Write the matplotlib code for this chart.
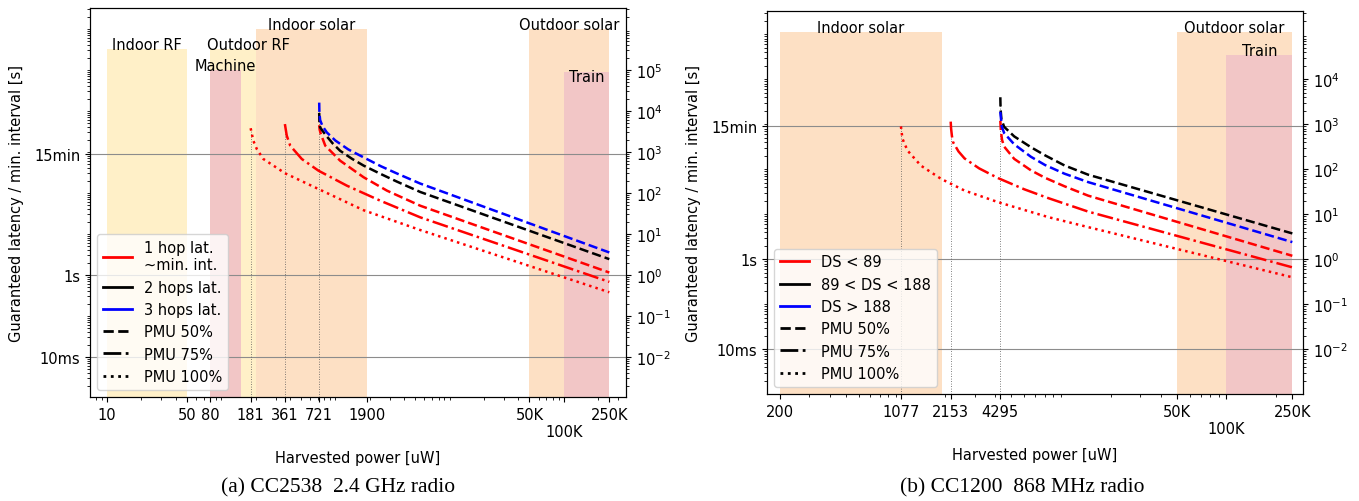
import numpy as np
import matplotlib
matplotlib.use("Agg")
import matplotlib.pyplot as plt
from matplotlib.lines import Line2D
from matplotlib.ticker import LogLocator, NullFormatter, FixedLocator, FixedFormatter
import matplotlib.transforms as mtransforms

plt.rcParams["font.family"] = "DejaVu Sans"
plt.rcParams["font.size"] = 10.5

# ---------------- (a) CC2538 2.4 GHz radio ----------------
a_xticks = [10, 50, 80, 181, 361, 721, 1900, 50000, 100000, 250000]
a_xticklabels = ["10", "50", "80", "181", "361", "721", "1900", "50K", "\n100K", "250K"]

# 1 hop, PMU 100% (red dotted)
a_hop1_pmu100_p = [181, 191, 205, 234, 363, 711, 1766, 5530, 250000]
a_hop1_pmu100_l = [3800, 1890, 1180, 675, 302, 125, 38, 12.5, 0.38]
# 1 hop, PMU 75% (red dash-dot)
a_hop1_pmu75_p = [361, 375, 402, 508, 711, 1260, 2470, 5530, 250000]
a_hop1_pmu75_l = [4800, 2500, 1425, 675, 350, 151, 65, 25.5, 0.68]
# 1 hop, PMU 50% (red dashed)
a_hop1_pmu50_p = [721, 728, 745, 815, 1100, 1766, 2830, 5530, 250000]
a_hop1_pmu50_l = [4500, 3500, 2750, 1425, 614, 242, 114, 49, 1.15]
# 2 hops, PMU 50% (black dashed)
a_hop2_pmu50_p = [721, 724, 735, 770, 841, 950, 1100, 1400, 1766, 2500, 3450, 5530, 250000]
a_hop2_pmu50_l = [9000, 5500, 4000, 3300, 2400, 1600, 1070, 680, 466, 290, 190, 106, 2.44]
# 3 hops, PMU 50% (blue dashed)
a_hop3_pmu50_p = [721, 724, 735, 770, 841, 1000, 1300, 1766, 2500, 3450, 5530, 250000]
a_hop3_pmu50_l = [16000, 9000, 6000, 4300, 3000, 1900, 1150, 740, 450, 300, 170, 3.55]

a_region_names = ["Indoor RF", "Outdoor RF", "Machine", "Indoor solar", "Outdoor solar", "Train"]
a_region_lo = [10, 80, 80, 200, 50000, 100000]
a_region_hi = [50, 370, 150, 1900, 250000, 250000]

a_legend_labels = ["1 hop lat.\n~min. int.", "2 hops lat.", "3 hops lat.",
                   "PMU 50%", "PMU 75%", "PMU 100%"]

# ---------------- (b) CC1200 868 MHz radio ----------------
b_xticks = [200, 1077, 2153, 4295, 50000, 100000, 250000]
b_xticklabels = ["200", "1077", "2153", "4295", "50K", "\n100K", "250K"]

# DS < 89, PMU 100% (red dotted)
b_ds89_pmu100_p = [1077, 1100, 1180, 1422, 1883, 2610, 4160, 8360, 14600, 250000]
b_ds89_pmu100_l = [900, 480, 262, 121, 61.5, 33.8, 18.7, 8.7, 5.2, 0.40]
# DS < 89, PMU 75% (red dash-dot)
b_ds89_pmu75_p = [2153, 2165, 2190, 2226, 2400, 2610, 3200, 4160, 6000, 8360, 14600, 250000]
b_ds89_pmu75_l = [1150, 800, 550, 400, 250, 175, 105, 64, 36, 23, 11.5, 0.665]
# DS < 89, PMU 50% (red dashed)
b_ds89_pmu50_p = [4295, 4330, 4400, 4530, 5210, 6580, 8000, 10500, 14600, 250000]
b_ds89_pmu50_l = [1200, 700, 450, 320, 171, 95, 65, 42, 26, 1.2]
# 89 < DS < 188, PMU 50% (black dashed)
b_ds188_pmu50_p = [4295, 4310, 4360, 4530, 5210, 6580, 8000, 10500, 14600, 250000]
b_ds188_pmu50_l = [4000, 2200, 1300, 880, 540, 310, 205, 122, 76, 3.77]
# DS > 188, PMU 50% (blue dashed)
b_dsmax_pmu50_p = [4295, 4380, 4530, 5210, 6580, 8000, 10500, 14600, 250000]
b_dsmax_pmu50_l = [1900, 900, 640, 360, 190, 125, 80, 52, 2.42]

b_region_names = ["Indoor solar", "Outdoor solar", "Train"]
b_region_lo = [200, 50000, 100000]
b_region_hi = [1900, 250000, 250000]

b_legend_labels = ["DS < 89", "89 < DS < 188", "DS > 188",
                   "PMU 50%", "PMU 75%", "PMU 100%"]

# ---------------- styling ----------------
YELLOW = "#fff0c8"
ORANGE = "#fde0c4"
PINK = "#f2c6c6"
region_color = {"Indoor RF": YELLOW, "Outdoor RF": YELLOW, "Machine": PINK,
                "Indoor solar": ORANGE, "Outdoor solar": ORANGE, "Train": PINK}

W, H = 1359, 502
fig = plt.figure(figsize=(W / 100, H / 100), dpi=100)


def px_axes(left, top, right, bottom):
    return fig.add_axes([left / W, 1 - bottom / H, (right - left) / W, (bottom - top) / H])


def draw_panel(ax, curves, names, lo, hi, tops, xticks, xlabels, leg_labels,
               xlim, ylim, right_ticks, text_shift):
    ax.set_xscale("log")
    ax.set_yscale("log")
    trans = mtransforms.blended_transform_factory(ax.transData, ax.transAxes)

    for name, a, b in zip(names, lo, hi):
        top = tops[name]
        ax.axvspan(a, b, ymin=0, ymax=top, color=region_color[name], lw=0, zorder=0.5)
        ax.text(np.sqrt(a * b), top - text_shift.get(name, 0), name, transform=trans,
                ha="center", va="baseline", zorder=3)

    for yv in [0.01, 1, 900]:
        ax.axhline(yv, color="0.55", lw=0.8, zorder=1)

    # thin dotted markers at curve start powers
    starts = {}
    for p, l, c, ls in curves:
        starts[p[0]] = max(starts.get(p[0], 0), l[0])
    for p0, l0 in starts.items():
        ax.vlines(p0, ylim[0], l0, colors="0.35", linestyles=(0, (1, 2)), lw=0.6, zorder=1.2)

    for p, l, c, ls in curves:
        ax.plot(p, l, color=c, ls=ls, lw=1.8, zorder=2)

    ax.set_xlim(*xlim)
    ax.set_ylim(*ylim)

    ax.xaxis.set_major_locator(FixedLocator(xticks))
    ax.xaxis.set_major_formatter(FixedFormatter(xlabels))
    ax.xaxis.set_minor_locator(LogLocator(base=10, subs=np.arange(1, 10), numticks=30))
    ax.xaxis.set_minor_formatter(NullFormatter())

    ax.yaxis.set_major_locator(FixedLocator([0.01, 1, 900]))
    ax.yaxis.set_major_formatter(FixedFormatter(["10ms", "1s", "15min"]))
    ax.yaxis.set_minor_locator(LogLocator(base=10, subs=np.arange(1, 10), numticks=30))
    ax.yaxis.set_minor_formatter(NullFormatter())

    ax2 = ax.twinx()
    ax2.set_yscale("log")
    ax2.set_ylim(*ylim)
    ax2.yaxis.set_major_locator(FixedLocator(right_ticks))
    ax2.yaxis.set_major_formatter(FixedFormatter(
        [r"$10^{%d}$" % int(round(np.log10(t))) for t in right_ticks]))
    ax2.yaxis.set_minor_locator(LogLocator(base=10, subs=np.arange(2, 10), numticks=30))
    ax2.yaxis.set_minor_formatter(NullFormatter())

    ax.set_xlabel("Harvested power [uW]", labelpad=8)
    ax.set_ylabel("Guaranteed latency / min. interval [s]")
    ax.yaxis.set_label_coords(-0.123, 0.5)

    handles = [Line2D([], [], color="red", lw=2),
               Line2D([], [], color="black", lw=2),
               Line2D([], [], color="blue", lw=2),
               Line2D([], [], color="black", lw=2, ls="--"),
               Line2D([], [], color="black", lw=2, ls="-."),
               Line2D([], [], color="black", lw=2, ls=":")]
    leg = ax.legend(handles, leg_labels, loc="lower left")
    leg.set_zorder(5)
    return ax2


ax_a = px_axes(90, 9, 626, 398)
curves_a = [
    (a_hop1_pmu100_p, a_hop1_pmu100_l, "red", ":"),
    (a_hop1_pmu75_p, a_hop1_pmu75_l, "red", "-."),
    (a_hop1_pmu50_p, a_hop1_pmu50_l, "red", "--"),
    (a_hop2_pmu50_p, a_hop2_pmu50_l, "black", "--"),
    (a_hop3_pmu50_p, a_hop3_pmu50_l, "blue", "--"),
]
tops_a = {"Indoor RF": 0.895, "Outdoor RF": 0.895, "Machine": 0.84,
          "Indoor solar": 0.945, "Outdoor solar": 0.945, "Train": 0.835}
draw_panel(ax_a, curves_a, a_region_names, a_region_lo, a_region_hi, tops_a,
           a_xticks, a_xticklabels, a_legend_labels,
           (7.1, 3.5e5), (1.06e-3, 3.25e6),
           [1e-2, 1e-1, 1e0, 1e1, 1e2, 1e3, 1e4, 1e5], {"Train": 0.023})

ax_b = px_axes(767, 12, 1303, 395)
curves_b = [
    (b_ds89_pmu100_p, b_ds89_pmu100_l, "red", ":"),
    (b_ds89_pmu75_p, b_ds89_pmu75_l, "red", "-."),
    (b_ds89_pmu50_p, b_ds89_pmu50_l, "red", "--"),
    (b_ds188_pmu50_p, b_ds188_pmu50_l, "black", "--"),
    (b_dsmax_pmu50_p, b_dsmax_pmu50_l, "blue", "--"),
]
tops_b = {"Indoor solar": 0.945, "Outdoor solar": 0.945, "Train": 0.885}
draw_panel(ax_b, curves_b, b_region_names, b_region_lo, b_region_hi, tops_b,
           b_xticks, b_xticklabels, b_legend_labels,
           (167, 2.9e5), (1.02e-3, 3.3e5),
           [1e-2, 1e-1, 1e0, 1e1, 1e2, 1e3, 1e4], {})

fig.text(338 / W, 1 - 488 / H, "(a) CC2538  2.4 GHz radio", ha="center", va="center",
         family="Liberation Serif", fontsize=15.5)
fig.text(1022 / W, 1 - 488 / H, "(b) CC1200  868 MHz radio", ha="center", va="center",
         family="Liberation Serif", fontsize=15.5)

fig.savefig("out.png", dpi=100)
